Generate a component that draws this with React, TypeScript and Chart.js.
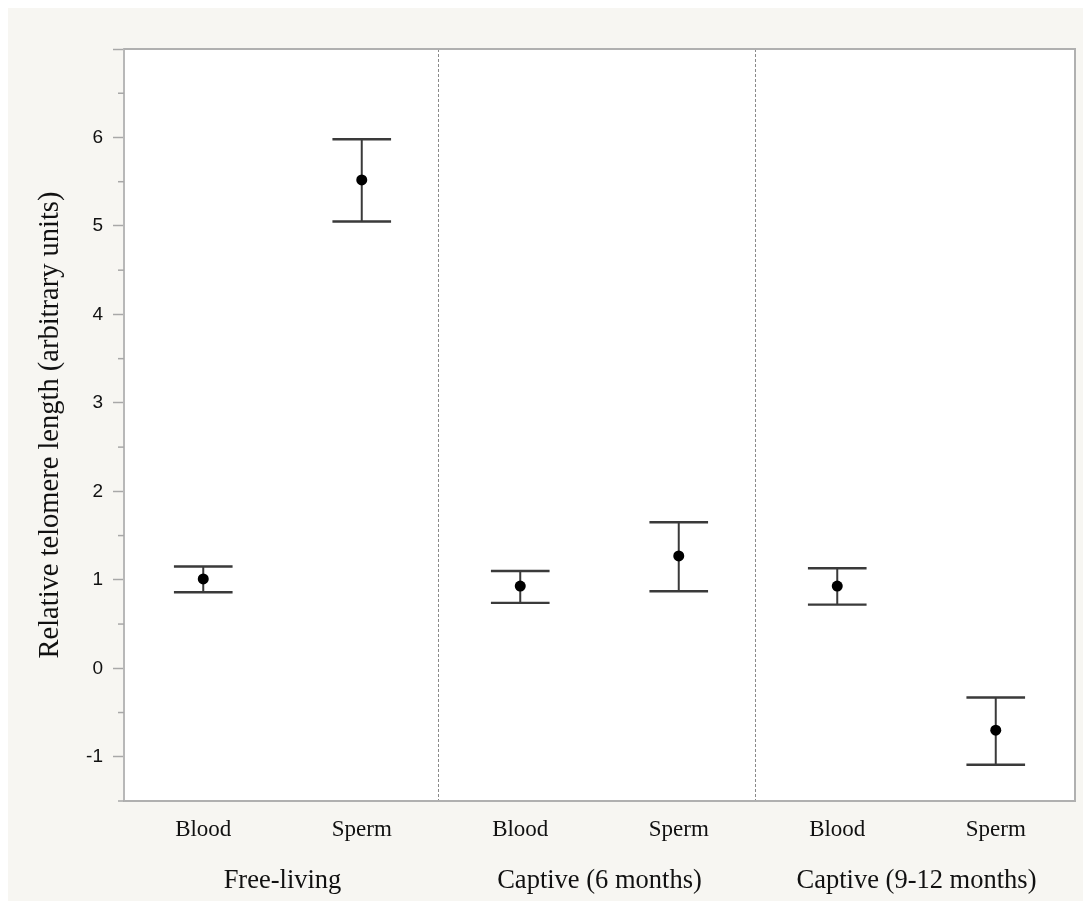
import React, { useEffect, useRef } from 'react';
import { Chart, registerables } from 'chart.js';

Chart.register(...registerables);

const categories = ['Blood', 'Sperm', 'Blood', 'Sperm', 'Blood', 'Sperm'];
const groups = ['Free-living', 'Captive (6 months)', 'Captive (9-12 months)'];
const means = [1.01, 5.52, 0.93, 1.27, 0.93, -0.7];
const upper = [1.15, 5.98, 1.1, 1.65, 1.13, -0.33];
const lower = [0.86, 5.05, 0.74, 0.87, 0.72, -1.09];
const yTickLabels = ['-1', '0', '1', '2', '3', '4', '5', '6'];
const yMin = -1.5;
const yMax = 7;
const yTitle = 'Relative telomere length (arbitrary units)';

const SERIF = "'Liberation Serif', 'Times New Roman', serif";
const SANS = "'Liberation Sans', Arial, sans-serif";

const decor = {
  id: 'decor',
  beforeDraw(chart: any) {
    const { ctx, chartArea: a, width, height } = chart;
    ctx.save();
    ctx.fillStyle = '#f7f6f2';
    ctx.fillRect(0, 0, width, height);
    ctx.fillStyle = '#ffffff';
    ctx.fillRect(a.left, a.top, a.right - a.left, a.bottom - a.top);
    ctx.restore();
  },
  beforeDatasetsDraw(chart: any) {
    const { ctx, chartArea: a } = chart;
    const x = chart.scales.x;
    const y = chart.scales.y;
    ctx.save();
    // group separators
    ctx.strokeStyle = '#8a8a8a';
    ctx.lineWidth = 1;
    ctx.setLineDash([3, 2]);
    for (let g = 1; g < groups.length; g++) {
      const px = Math.round((x.getPixelForValue(g * 2 - 1) + x.getPixelForValue(g * 2)) / 2) - 2.5;
      ctx.beginPath();
      ctx.moveTo(px, a.top);
      ctx.lineTo(px, a.bottom);
      ctx.stroke();
    }
    ctx.setLineDash([]);
    // frame: top, right, bottom
    ctx.strokeStyle = '#b0b0b0';
    ctx.lineWidth = 2;
    ctx.beginPath();
    ctx.moveTo(a.left, a.top);
    ctx.lineTo(a.right, a.top);
    ctx.lineTo(a.right, a.bottom);
    ctx.lineTo(a.left, a.bottom);
    ctx.stroke();
    // minor ticks
    ctx.strokeStyle = '#a8a8a8';
    ctx.lineWidth = 1.5;
    for (let v = yMin; v < yMax; v += 1) {
      const py = y.getPixelForValue(v);
      ctx.beginPath();
      ctx.moveTo(a.left - 6, py);
      ctx.lineTo(a.left, py);
      ctx.stroke();
    }
    // error bars
    const half = (x.getPixelForValue(1) - x.getPixelForValue(0)) * 0.185;
    ctx.strokeStyle = '#3a3a3a';
    for (let i = 0; i < means.length; i++) {
      const px = x.getPixelForValue(i);
      const pu = y.getPixelForValue(upper[i]);
      const pl = y.getPixelForValue(lower[i]);
      ctx.lineWidth = 2;
      ctx.beginPath();
      ctx.moveTo(px, pu);
      ctx.lineTo(px, pl);
      ctx.stroke();
      ctx.lineWidth = 2.4;
      ctx.beginPath();
      ctx.moveTo(px - half, pu);
      ctx.lineTo(px + half, pu);
      ctx.moveTo(px - half, pl);
      ctx.lineTo(px + half, pl);
      ctx.stroke();
    }
    ctx.restore();
  },
  afterDraw(chart: any) {
    const { ctx } = chart;
    const x = chart.scales.x;
    ctx.save();
    ctx.fillStyle = '#111';
    ctx.textAlign = 'center';
    ctx.textBaseline = 'alphabetic';
    ctx.font = `23px ${SERIF}`;
    categories.forEach((c, i) => {
      ctx.fillText(c, x.getPixelForValue(i), 828);
    });
    ctx.font = `26.5px ${SERIF}`;
    groups.forEach((g, gi) => {
      const cx = (x.getPixelForValue(gi * 2) + x.getPixelForValue(gi * 2 + 1)) / 2;
      ctx.fillText(g, cx, 880);
    });
    ctx.restore();
  },
};

export default function App() {
  const ref = useRef<HTMLCanvasElement | null>(null);
  useEffect(() => {
    document.documentElement.style.overflow = 'hidden';
    const canvas = ref.current;
    if (!canvas) return;
    const chart = new Chart(canvas, {
      type: 'line',
      data: {
        labels: categories,
        datasets: [
          {
            data: means,
            showLine: false,
            pointRadius: 5.5,
            pointHoverRadius: 5.5,
            pointBackgroundColor: '#000',
            pointBorderColor: '#000',
            pointBorderWidth: 0,
          },
        ],
      },
      options: {
        responsive: false,
        animation: false,
        devicePixelRatio: 1,
        layout: { padding: { top: 41, right: 8, bottom: 100, left: 0 } },
        plugins: { legend: { display: false }, tooltip: { enabled: false } },
        events: [],
        scales: {
          x: {
            type: 'category',
            display: false,
            offset: true,
          },
          y: {
            type: 'linear',
            min: yMin,
            max: yMax,
            afterFit: (scale: any) => {
              scale.width = 116;
            },
            ticks: {
              stepSize: 0.5,
              autoSkip: false,
              padding: 10,
              color: '#111',
              font: { family: SANS, size: 19 },
              callback: (v: any) => {
                const s = String(v);
                return Number.isInteger(v) && yTickLabels.includes(s) ? s : '';
              },
            },
            grid: {
              display: true,
              drawOnChartArea: false,
              drawTicks: true,
              tickLength: 11,
              tickWidth: 1.5,
              tickColor: (ctx: any) =>
                ctx.tick && Number.isInteger(ctx.tick.value) ? '#a8a8a8' : 'rgba(0,0,0,0)',
            },
            border: { display: true, color: '#b8b8b8', width: 2 },
            title: {
              display: true,
              text: yTitle,
              color: '#111',
              font: { family: SERIF, size: 28.5 },
              padding: { top: 25, bottom: 0 },
            },
          },
        },
      },
      plugins: [decor],
    });
    return () => chart.destroy();
  }, []);
  return (
    <div
      style={{
        position: 'fixed',
        left: 8,
        top: 8,
        width: 1075,
        height: 893,
        background: '#f7f6f2',
        overflow: 'visible',
      }}
    >
      <canvas ref={ref} width={1075} height={893} style={{ display: 'block' }} />
    </div>
  );
}
